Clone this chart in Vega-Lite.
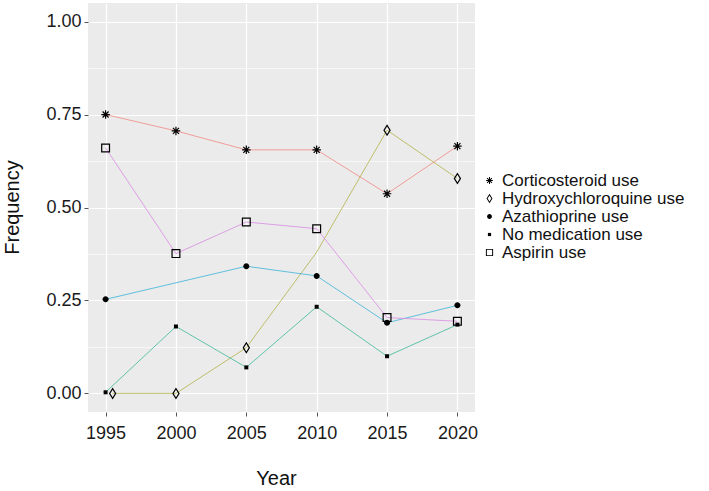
{
  "$schema": "https://vega.github.io/schema/vega-lite/v6.json",
  "width": 387,
  "height": 409,
  "autosize": {"type": "none"},
  "padding": {"left": 88, "top": 3, "right": 234, "bottom": 79},
  "background": "white",
  "config": {
    "view": {"stroke": null, "fill": "#EBEBEB"},
    "font": "Liberation Sans"
  },
  "data": {
    "values": [
      {"Year": 1995, "Series": "Corticosteroid use", "Frequency": 0.75},
      {"Year": 2000, "Series": "Corticosteroid use", "Frequency": 0.706},
      {"Year": 2005, "Series": "Corticosteroid use", "Frequency": 0.655},
      {"Year": 2010, "Series": "Corticosteroid use", "Frequency": 0.655},
      {"Year": 2015, "Series": "Corticosteroid use", "Frequency": 0.537},
      {"Year": 2020, "Series": "Corticosteroid use", "Frequency": 0.665},
      {"Year": 1995.5, "Series": "Hydroxychloroquine use", "Frequency": 0.0},
      {"Year": 2000, "Series": "Hydroxychloroquine use", "Frequency": 0.0},
      {"Year": 2005, "Series": "Hydroxychloroquine use", "Frequency": 0.123},
      {"Year": 2010, "Series": "Hydroxychloroquine use", "Frequency": 0.38},
      {"Year": 2015, "Series": "Hydroxychloroquine use", "Frequency": 0.708},
      {"Year": 2020, "Series": "Hydroxychloroquine use", "Frequency": 0.578},
      {"Year": 1995, "Series": "Azathioprine use", "Frequency": 0.253},
      {"Year": 2005, "Series": "Azathioprine use", "Frequency": 0.342},
      {"Year": 2010, "Series": "Azathioprine use", "Frequency": 0.316},
      {"Year": 2015, "Series": "Azathioprine use", "Frequency": 0.19},
      {"Year": 2020, "Series": "Azathioprine use", "Frequency": 0.237},
      {"Year": 1995, "Series": "No medication use", "Frequency": 0.003},
      {"Year": 2000, "Series": "No medication use", "Frequency": 0.18},
      {"Year": 2005, "Series": "No medication use", "Frequency": 0.07},
      {"Year": 2010, "Series": "No medication use", "Frequency": 0.233},
      {"Year": 2015, "Series": "No medication use", "Frequency": 0.1},
      {"Year": 2020, "Series": "No medication use", "Frequency": 0.185},
      {"Year": 1995, "Series": "Aspirin use", "Frequency": 0.66},
      {"Year": 2000, "Series": "Aspirin use", "Frequency": 0.376},
      {"Year": 2005, "Series": "Aspirin use", "Frequency": 0.461},
      {"Year": 2010, "Series": "Aspirin use", "Frequency": 0.443},
      {"Year": 2015, "Series": "Aspirin use", "Frequency": 0.204},
      {"Year": 2020, "Series": "Aspirin use", "Frequency": 0.194}
    ]
  },
  "layer": [
    {
      "mark": {"type": "line", "strokeWidth": 1, "opacity": 0.8},
      "encoding": {
        "x": {
          "field": "Year",
          "type": "quantitative",
          "scale": {"domain": [1993.75, 2021.25], "nice": false, "zero": false},
          "axis": {
            "values": [1995, 1997.5, 2000, 2002.5, 2005, 2007.5, 2010, 2012.5, 2015, 2017.5, 2020],
            "labelExpr": "datum.value % 5 === 0 ? format(datum.value, 'd') : ''",
            "labelOverlap": false,
            "labelFlush": false,
            "labelBound": false,
            "labelFontSize": 18,
            "labelColor": "#1a1a1a",
            "labelPadding": 8,
            "tickSize": 4,
            "tickColor": "#555555",
            "tickOpacity": {"condition": {"test": "datum.value % 5 === 0", "value": 1}, "value": 0},
            "grid": true,
            "gridColor": "white",
            "gridWidth": {"condition": {"test": "datum.value % 5 === 0", "value": 1.2}, "value": 0.6},
            "domain": false,
            "title": "Year",
            "titleFontSize": 20,
            "titleFontWeight": "normal",
            "titleColor": "#111111",
            "titleX": 188,
            "titleY": 66,
            "titleBaseline": "middle"
          }
        },
        "y": {
          "field": "Frequency",
          "type": "quantitative",
          "scale": {"domain": [-0.05, 1.05], "nice": false, "zero": false},
          "axis": {
            "values": [0, 0.125, 0.25, 0.375, 0.5, 0.625, 0.75, 0.875, 1],
            "labelExpr": "datum.value % 0.25 === 0 ? format(datum.value, '.2f') : ''",
            "labelOverlap": false,
            "labelFontSize": 18,
            "labelColor": "#1a1a1a",
            "labelPadding": 3,
            "tickSize": 4,
            "tickColor": "#555555",
            "tickOpacity": {"condition": {"test": "datum.value % 0.25 === 0", "value": 1}, "value": 0},
            "grid": true,
            "gridColor": "white",
            "gridWidth": {"condition": {"test": "datum.value % 0.25 === 0", "value": 1.2}, "value": 0.6},
            "domain": false,
            "title": "Frequency",
            "titleFontSize": 20,
            "titleFontWeight": "normal",
            "titleColor": "#111111",
            "titleX": -76,
            "titleY": 204,
            "titleBaseline": "middle"
          }
        },
        "color": {
          "field": "Series",
          "type": "nominal",
          "scale": {
            "domain": ["Aspirin use", "Azathioprine use", "Corticosteroid use", "Hydroxychloroquine use", "No medication use"],
            "range": ["#DA8BE4", "#3CB4D8", "#F08A84", "#B3B24A", "#3DB99A"]
          },
          "legend": null
        }
      }
    },
    {
      "transform": [{"filter": "!(datum.Series === 'Hydroxychloroquine use' && datum.Year === 2010)"}],
      "mark": {"type": "point", "filled": true, "size": 100, "strokeWidth": 0, "opacity": 1, "fill": "black"},
      "encoding": {
        "x": {"field": "Year", "type": "quantitative"},
        "y": {"field": "Frequency", "type": "quantitative"},
        "color": {"value": "black"},
        "shape": {
          "field": "Series",
          "type": "nominal",
          "scale": {
            "domain": ["Corticosteroid use", "Hydroxychloroquine use", "Azathioprine use", "No medication use", "Aspirin use"],
            "range": [
              "M-0.12,-0.85L0.12,-0.85L0.12,0.85L-0.12,0.85ZM-0.85,-0.12L0.85,-0.12L0.85,0.12L-0.85,0.12ZM-0.685,-0.515L-0.515,-0.685L0.685,0.515L0.515,0.685ZM0.515,-0.685L0.685,-0.515L-0.515,0.685L-0.685,0.515Z",
              "M0,-1.2L0.75,0L0,1.2L-0.75,0ZM0,-0.75L-0.467,0L0,0.75L0.467,0Z",
              "M-0.6,0A0.6,0.6 0 1,0 0.6,0A0.6,0.6 0 1,0 -0.6,0Z",
              "M-0.4,-0.4L0.4,-0.4L0.4,0.4L-0.4,0.4Z",
              "M-0.9,-0.9L0.9,-0.9L0.9,0.9L-0.9,0.9ZM-0.66,-0.66L-0.66,0.66L0.66,0.66L0.66,-0.66Z"
            ]
          },
          "legend": {
            "orient": "none",
            "legendX": 393,
            "legendY": 169,
            "title": null,
            "labelFontSize": 17,
            "labelColor": "#111111",
            "labelLimit": 300,
            "symbolSize": 64,
            "symbolFillColor": "black",
            "symbolStrokeWidth": 0,
            "rowPadding": 0,
            "labelOffset": 4
          }
        }
      }
    }
  ]
}
